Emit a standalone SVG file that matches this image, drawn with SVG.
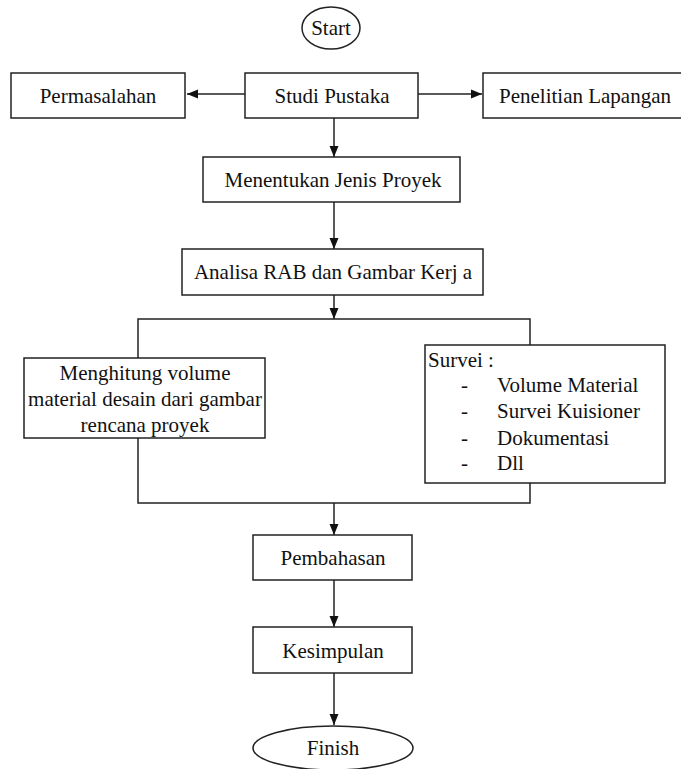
<svg xmlns="http://www.w3.org/2000/svg" width="681" height="769" viewBox="0 0 681 769">
<style>
.box{fill:#fff;stroke:#222;stroke-width:1.5}
.t{font-family:"Liberation Serif","Times New Roman",serif;font-size:21px;fill:#111;text-anchor:middle;dominant-baseline:central}
.tl{font-family:"Liberation Serif","Times New Roman",serif;font-size:21px;fill:#111;dominant-baseline:central}
.c{fill:none;stroke:#222;stroke-width:1.5}
</style>
<defs>
<marker id="ah" markerUnits="userSpaceOnUse" markerWidth="12" markerHeight="12" viewBox="0 0 12 12" refX="11" refY="6" orient="auto">
<path d="M0,1.5 L11,6 L0,10.5 Z" fill="#111"/>
</marker>
</defs>
<rect width="681" height="769" fill="#fff"/>
<g id="connectors">
<line class="c" x1="245" y1="94" x2="187" y2="94" marker-end="url(#ah)"/>
<line class="c" x1="418" y1="94" x2="482" y2="94" marker-end="url(#ah)"/>
<line class="c" x1="334" y1="118" x2="334" y2="157" marker-end="url(#ah)"/>
<line class="c" x1="334" y1="202" x2="334" y2="249" marker-end="url(#ah)"/>
<line class="c" x1="334" y1="295" x2="334" y2="319" marker-end="url(#ah)"/>
<polyline class="c" points="138,358 138,319 530,319 530,345"/>
<polyline class="c" points="138,438 138,503 530,503 530,483"/>
<line class="c" x1="334" y1="503" x2="334" y2="535" marker-end="url(#ah)"/>
<line class="c" x1="334" y1="580" x2="334" y2="627" marker-end="url(#ah)"/>
<line class="c" x1="334" y1="673" x2="334" y2="725" marker-end="url(#ah)"/>
</g>
<g id="start">
<ellipse class="box" cx="331" cy="28" rx="29" ry="21"/>
<text class="t" x="331" y="28">Start</text>
</g>
<g id="permasalahan">
<rect class="box" x="11" y="73" width="174" height="45"/>
<text class="t" x="98" y="96">Permasalahan</text>
</g>
<g id="studi-pustaka">
<rect class="box" x="245" y="73" width="173" height="45"/>
<text class="t" x="332" y="96">Studi Pustaka</text>
</g>
<g id="penelitian-lapangan">
<rect class="box" x="483" y="73" width="205" height="45"/>
<text class="t" x="585" y="96">Penelitian Lapangan</text>
</g>
<g id="menentukan">
<rect class="box" x="203" y="157" width="257" height="45"/>
<text class="t" x="333" y="180">Menentukan Jenis Proyek</text>
</g>
<g id="analisa">
<rect class="box" x="182" y="249" width="301" height="46"/>
<text class="t" x="333" y="272">Analisa RAB dan Gambar Kerj a</text>
</g>
<g id="menghitung">
<rect class="box" x="24" y="358" width="241" height="80"/>
<text class="t" x="145" y="373">Menghitung volume</text>
<text class="t" x="145" y="399">material desain dari gambar</text>
<text class="t" x="145" y="425">rencana proyek</text>
</g>
<g id="survei">
<rect class="box" x="425" y="345" width="240" height="138"/>
<text class="tl" x="428" y="360">Survei :</text>
<text class="tl" x="461" y="385">-</text>
<text class="tl" x="497" y="385">Volume Material</text>
<text class="tl" x="461" y="411">-</text>
<text class="tl" x="497" y="411">Survei Kuisioner</text>
<text class="tl" x="461" y="438">-</text>
<text class="tl" x="497" y="438">Dokumentasi</text>
<text class="tl" x="461" y="463">-</text>
<text class="tl" x="497" y="463">Dll</text>
</g>
<g id="pembahasan">
<rect class="box" x="253" y="535" width="159" height="45"/>
<text class="t" x="333" y="558">Pembahasan</text>
</g>
<g id="kesimpulan">
<rect class="box" x="253" y="627" width="159" height="46"/>
<text class="t" x="333" y="651">Kesimpulan</text>
</g>
<g id="finish">
<ellipse class="box" cx="333" cy="748" rx="80" ry="22"/>
<text class="t" x="333" y="748">Finish</text>
</g>
</svg>
